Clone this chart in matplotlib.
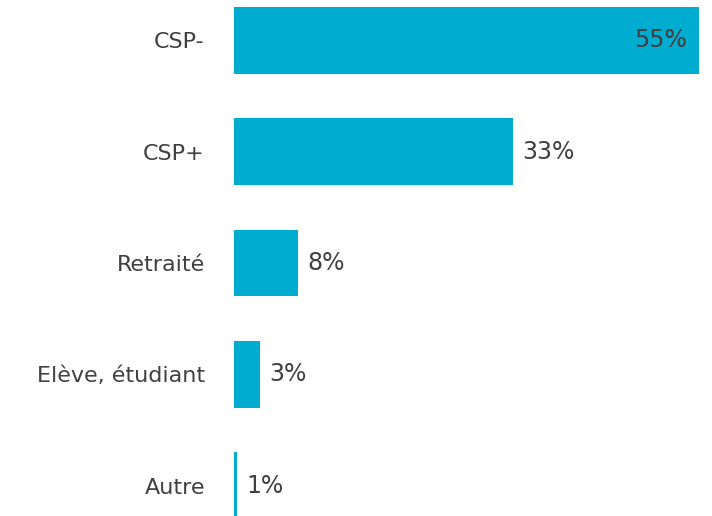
import matplotlib
matplotlib.use("Agg")
import matplotlib.pyplot as plt

# Données
categories = ["CSP-", "CSP+", "Retraité", "Elève, étudiant", "Autre"]
valeurs = [55, 33, 7.6, 3.1, 0.4]
etiquettes = ["55%", "33%", "8%", "3%", "1%"]

bleu = "#00ACD0"
gris = "#404040"

fig = plt.figure(figsize=(7.12, 5.16), dpi=100)
ax = fig.add_axes([234 / 712, 0, 465 / 712, 1])

pos = range(len(categories))
ax.barh(pos, valeurs, height=0.6, color=bleu)

ax.set_xlim(0, 55)
ax.set_ylim(4.274, -0.364)

for i, (v, t) in enumerate(zip(valeurs, etiquettes)):
    if v > 50:
        ax.text(v - 1.4, i, t, ha="right", va="center", fontsize=17, color=gris)
    else:
        ax.text(v + 1.1, i, t, ha="left", va="center", fontsize=17, color=gris)

ax.set_yticks(list(pos))
ax.set_yticklabels(categories, fontsize=16, color=gris)
ax.tick_params(axis="y", length=0, pad=21)
ax.set_xticks([])
for s in ax.spines.values():
    s.set_visible(False)

fig.savefig("out.png", dpi=100)
